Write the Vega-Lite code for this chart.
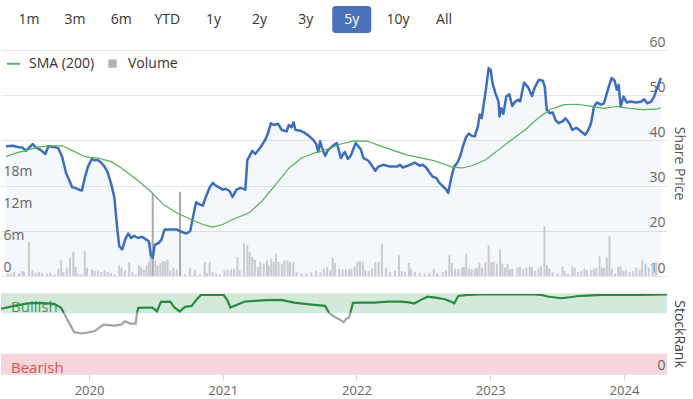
{
  "$schema": "https://vega.github.io/schema/vega-lite/v6.json",
  "background": "white",
  "padding": {"left": -4, "top": 6, "right": 4, "bottom": 0},
  "spacing": 17,
  "bounds": "flush",
  "config": {"font": "Open Sans", "view": {"stroke": null}},
  "resolve": {"scale": {"x": "independent", "y": "independent"}},
  "datasets": {
    "buttons": [
      {"label": "1m", "selected": false}, {"label": "3m", "selected": false}, {"label": "6m", "selected": false},
      {"label": "YTD", "selected": false}, {"label": "1y", "selected": false}, {"label": "2y", "selected": false},
      {"label": "3y", "selected": false}, {"label": "5y", "selected": true}, {"label": "10y", "selected": false},
      {"label": "All", "selected": false}
    ],
    "price": [
      {"t":2019.342,"p":38.7},{"t":2019.394,"p":38.8},{"t":2019.439,"p":38.5},{"t":2019.469,"p":38.4},{"t":2019.492,"p":37.7},
      {"t":2019.514,"p":38.3},{"t":2019.544,"p":39.2},{"t":2019.566,"p":38.5},{"t":2019.604,"p":37.9},{"t":2019.641,"p":37.0},
      {"t":2019.664,"p":38.7},{"t":2019.716,"p":38.5},{"t":2019.738,"p":38.3},{"t":2019.768,"p":36.4},{"t":2019.798,"p":32.8},
      {"t":2019.821,"p":31.3},{"t":2019.843,"p":29.7},{"t":2019.865,"p":29.5},{"t":2019.888,"p":29.2},{"t":2019.918,"p":28.9},
      {"t":2019.940,"p":31.7},{"t":2019.963,"p":34.1},{"t":2019.993,"p":35.9},{"t":2020.015,"p":35.6},{"t":2020.037,"p":35.7},
      {"t":2020.067,"p":35.0},{"t":2020.090,"p":34.2},{"t":2020.112,"p":33.1},{"t":2020.142,"p":30.2},{"t":2020.165,"p":27.3},
      {"t":2020.187,"p":20.3},{"t":2020.202,"p":16.6},{"t":2020.224,"p":15.9},{"t":2020.247,"p":18.1},{"t":2020.269,"p":19.4},
      {"t":2020.292,"p":18.4},{"t":2020.314,"p":18.9},{"t":2020.344,"p":18.4},{"t":2020.374,"p":18.7},{"t":2020.404,"p":18.1},
      {"t":2020.426,"p":17.7},{"t":2020.441,"p":14.7},{"t":2020.456,"p":14.0},{"t":2020.471,"p":16.9},{"t":2020.501,"p":17.3},
      {"t":2020.523,"p":18.1},{"t":2020.546,"p":20.3},{"t":2020.591,"p":20.3},{"t":2020.636,"p":20.3},{"t":2020.665,"p":19.9},
      {"t":2020.710,"p":19.4},{"t":2020.740,"p":19.9},{"t":2020.763,"p":23.2},{"t":2020.785,"p":26.3},{"t":2020.815,"p":25.8},
      {"t":2020.837,"p":25.6},{"t":2020.860,"p":27.6},{"t":2020.890,"p":29.7},{"t":2020.912,"p":30.6},{"t":2020.935,"p":30.0},
      {"t":2020.965,"p":29.5},{"t":2020.987,"p":29.1},{"t":2021.009,"p":29.3},{"t":2021.039,"p":28.8},{"t":2021.062,"p":27.5},
      {"t":2021.092,"p":29.1},{"t":2021.122,"p":29.5},{"t":2021.159,"p":29.1},{"t":2021.174,"p":35.7},{"t":2021.189,"p":36.4},
      {"t":2021.211,"p":37.7},{"t":2021.234,"p":37.0},{"t":2021.264,"p":38.1},{"t":2021.286,"p":39.0},{"t":2021.309,"p":40.1},
      {"t":2021.331,"p":41.6},{"t":2021.353,"p":43.8},{"t":2021.376,"p":43.4},{"t":2021.406,"p":43.7},{"t":2021.436,"p":42.3},
      {"t":2021.473,"p":42.0},{"t":2021.488,"p":43.4},{"t":2021.510,"p":42.9},{"t":2021.525,"p":44.0},{"t":2021.540,"p":42.3},
      {"t":2021.570,"p":42.2},{"t":2021.608,"p":41.7},{"t":2021.645,"p":40.9},{"t":2021.675,"p":40.1},{"t":2021.697,"p":39.2},
      {"t":2021.712,"p":37.5},{"t":2021.727,"p":39.8},{"t":2021.742,"p":38.3},{"t":2021.765,"p":36.6},{"t":2021.787,"p":37.9},
      {"t":2021.832,"p":39.0},{"t":2021.854,"p":39.4},{"t":2021.884,"p":36.1},{"t":2021.914,"p":37.5},{"t":2021.937,"p":35.9},
      {"t":2021.959,"p":36.6},{"t":2021.996,"p":39.4},{"t":2022.034,"p":38.1},{"t":2022.056,"p":36.1},{"t":2022.094,"p":35.5},
      {"t":2022.146,"p":33.3},{"t":2022.168,"p":34.2},{"t":2022.206,"p":34.6},{"t":2022.258,"p":34.2},{"t":2022.310,"p":34.2},
      {"t":2022.333,"p":34.6},{"t":2022.355,"p":34.0},{"t":2022.408,"p":34.6},{"t":2022.445,"p":35.1},{"t":2022.482,"p":34.4},
      {"t":2022.505,"p":34.6},{"t":2022.535,"p":33.9},{"t":2022.557,"p":32.9},{"t":2022.580,"p":32.0},{"t":2022.609,"p":31.7},
      {"t":2022.632,"p":30.6},{"t":2022.654,"p":30.0},{"t":2022.684,"p":29.1},{"t":2022.699,"p":28.4},{"t":2022.722,"p":31.7},
      {"t":2022.744,"p":34.2},{"t":2022.767,"p":35.0},{"t":2022.789,"p":36.4},{"t":2022.811,"p":38.7},{"t":2022.834,"p":40.7},
      {"t":2022.856,"p":41.5},{"t":2022.879,"p":41.0},{"t":2022.901,"p":40.9},{"t":2022.924,"p":43.1},{"t":2022.938,"p":45.7},
      {"t":2022.953,"p":44.9},{"t":2022.968,"p":47.9},{"t":2022.983,"p":50.8},{"t":2023.006,"p":56.0},{"t":2023.021,"p":55.6},
      {"t":2023.036,"p":52.6},{"t":2023.058,"p":50.4},{"t":2023.081,"p":48.6},{"t":2023.088,"p":45.3},{"t":2023.103,"p":47.1},
      {"t":2023.118,"p":45.9},{"t":2023.140,"p":49.7},{"t":2023.163,"p":50.2},{"t":2023.185,"p":47.6},{"t":2023.208,"p":48.6},
      {"t":2023.230,"p":49.0},{"t":2023.245,"p":48.6},{"t":2023.275,"p":52.8},{"t":2023.305,"p":51.8},{"t":2023.335,"p":49.8},
      {"t":2023.357,"p":51.8},{"t":2023.387,"p":53.4},{"t":2023.417,"p":53.2},{"t":2023.432,"p":51.9},{"t":2023.447,"p":46.8},
      {"t":2023.469,"p":46.0},{"t":2023.492,"p":46.2},{"t":2023.514,"p":44.5},{"t":2023.537,"p":43.8},{"t":2023.567,"p":44.2},
      {"t":2023.589,"p":44.9},{"t":2023.619,"p":43.8},{"t":2023.641,"p":42.3},{"t":2023.671,"p":42.8},{"t":2023.694,"p":42.3},
      {"t":2023.724,"p":41.6},{"t":2023.738,"p":41.2},{"t":2023.761,"p":42.2},{"t":2023.783,"p":43.8},{"t":2023.806,"p":47.5},
      {"t":2023.828,"p":48.4},{"t":2023.858,"p":47.9},{"t":2023.881,"p":48.2},{"t":2023.896,"p":49.7},{"t":2023.918,"p":51.9},
      {"t":2023.940,"p":53.8},{"t":2023.963,"p":53.2},{"t":2023.978,"p":51.2},{"t":2023.993,"p":52.3},{"t":2024.008,"p":47.5},
      {"t":2024.030,"p":49.7},{"t":2024.053,"p":48.4},{"t":2024.082,"p":48.6},{"t":2024.127,"p":48.4},{"t":2024.165,"p":48.6},
      {"t":2024.187,"p":49.1},{"t":2024.210,"p":48.2},{"t":2024.239,"p":48.6},{"t":2024.262,"p":49.7},{"t":2024.284,"p":51.5},
      {"t":2024.314,"p":53.8}
    ],
    "sma": [
      {"t":2019.342,"s":36.4},{"t":2019.417,"s":37.2},{"t":2019.492,"s":37.8},{"t":2019.589,"s":38.5},{"t":2019.664,"s":38.8},
      {"t":2019.768,"s":38.8},{"t":2019.843,"s":37.8},{"t":2019.940,"s":36.4},{"t":2020.037,"s":36.1},{"t":2020.142,"s":35.3},
      {"t":2020.217,"s":33.9},{"t":2020.336,"s":31.3},{"t":2020.441,"s":28.7},{"t":2020.538,"s":25.8},{"t":2020.636,"s":24.0},
      {"t":2020.740,"s":22.6},{"t":2020.837,"s":21.4},{"t":2020.912,"s":20.8},{"t":2020.987,"s":21.4},{"t":2021.062,"s":22.5},
      {"t":2021.189,"s":24.0},{"t":2021.286,"s":26.6},{"t":2021.383,"s":30.0},{"t":2021.488,"s":33.8},{"t":2021.585,"s":36.1},
      {"t":2021.682,"s":37.2},{"t":2021.787,"s":38.1},{"t":2021.884,"s":39.2},{"t":2021.981,"s":39.9},{"t":2022.086,"s":39.8},
      {"t":2022.183,"s":38.8},{"t":2022.281,"s":37.8},{"t":2022.385,"s":36.8},{"t":2022.482,"s":36.2},{"t":2022.580,"s":35.6},
      {"t":2022.684,"s":34.6},{"t":2022.729,"s":34.1},{"t":2022.804,"s":33.9},{"t":2022.879,"s":34.4},{"t":2022.983,"s":35.7},
      {"t":2023.081,"s":37.9},{"t":2023.178,"s":40.1},{"t":2023.282,"s":42.3},{"t":2023.380,"s":44.9},{"t":2023.477,"s":46.9},
      {"t":2023.582,"s":47.9},{"t":2023.679,"s":48.0},{"t":2023.776,"s":47.6},{"t":2023.881,"s":47.1},{"t":2023.978,"s":47.5},
      {"t":2024.075,"s":47.1},{"t":2024.180,"s":46.8},{"t":2024.277,"s":46.9},{"t":2024.314,"s":47.2}
    ],
    "vol": [
      {"t":2019.355,"v":0.44},{"t":2019.379,"v":0.44},{"t":2019.404,"v":0.75},{"t":2019.441,"v":0.57},{"t":2019.467,"v":0.94},
      {"t":2019.479,"v":0.75},{"t":2019.516,"v":6.39},{"t":2019.542,"v":1.07},{"t":2019.566,"v":0.57},{"t":2019.591,"v":0.75},
      {"t":2019.616,"v":0.57},{"t":2019.654,"v":0.44},{"t":2019.678,"v":0.57},{"t":2019.711,"v":0.31},{"t":2019.740,"v":1.38},
      {"t":2019.761,"v":2.94},{"t":2019.778,"v":0.75},{"t":2019.803,"v":1.56},{"t":2019.828,"v":3.45},{"t":2019.853,"v":4.52},
      {"t":2019.871,"v":1.69},{"t":2019.890,"v":0.44},{"t":2019.915,"v":0.31},{"t":2019.940,"v":4.63},{"t":2019.957,"v":1.56},
      {"t":2019.995,"v":1.19},{"t":2020.015,"v":0.94},{"t":2020.040,"v":1.07},{"t":2020.065,"v":0.75},{"t":2020.090,"v":1.07},
      {"t":2020.114,"v":0.75},{"t":2020.140,"v":0.57},{"t":2020.170,"v":0.31},{"t":2020.202,"v":2.00},{"t":2020.219,"v":1.56},
      {"t":2020.244,"v":1.07},{"t":2020.277,"v":2.63},{"t":2020.301,"v":0.75},{"t":2020.327,"v":0.31},{"t":2020.351,"v":2.00},
      {"t":2020.369,"v":1.69},{"t":2020.389,"v":1.19},{"t":2020.409,"v":2.00},{"t":2020.426,"v":2.63},{"t":2020.439,"v":6.39},
      {"t":2020.456,"v":15.5},{"t":2020.476,"v":2.94},{"t":2020.493,"v":2.00},{"t":2020.514,"v":2.44},{"t":2020.533,"v":2.81},
      {"t":2020.551,"v":2.75},{"t":2020.568,"v":3.07},{"t":2020.588,"v":1.07},{"t":2020.613,"v":1.56},{"t":2020.638,"v":1.19},
      {"t":2020.663,"v":15.8},{"t":2020.701,"v":0.31},{"t":2020.738,"v":1.56},{"t":2020.775,"v":1.19},{"t":2020.813,"v":0.31},
      {"t":2020.850,"v":2.63},{"t":2020.867,"v":0.57},{"t":2020.888,"v":2.63},{"t":2020.912,"v":0.75},{"t":2020.937,"v":0.57},
      {"t":2020.967,"v":0.31},{"t":2021.000,"v":1.07},{"t":2021.024,"v":1.19},{"t":2021.049,"v":1.19},{"t":2021.074,"v":1.38},
      {"t":2021.099,"v":3.56},{"t":2021.116,"v":1.07},{"t":2021.149,"v":6.08},{"t":2021.174,"v":5.77},{"t":2021.191,"v":4.52},
      {"t":2021.211,"v":3.56},{"t":2021.231,"v":3.07},{"t":2021.256,"v":1.69},{"t":2021.273,"v":2.63},{"t":2021.299,"v":2.31},
      {"t":2021.323,"v":2.94},{"t":2021.336,"v":2.00},{"t":2021.356,"v":3.25},{"t":2021.374,"v":2.63},{"t":2021.391,"v":4.19},
      {"t":2021.411,"v":2.63},{"t":2021.436,"v":2.31},{"t":2021.456,"v":2.94},{"t":2021.480,"v":2.94},{"t":2021.498,"v":2.63},
      {"t":2021.523,"v":2.63},{"t":2021.548,"v":0.75},{"t":2021.585,"v":0.57},{"t":2021.623,"v":0.44},{"t":2021.660,"v":0.75},
      {"t":2021.697,"v":1.07},{"t":2021.729,"v":0.75},{"t":2021.755,"v":1.38},{"t":2021.780,"v":1.69},{"t":2021.804,"v":1.07},
      {"t":2021.822,"v":3.45},{"t":2021.839,"v":2.44},{"t":2021.872,"v":1.38},{"t":2021.897,"v":1.19},{"t":2021.922,"v":1.19},
      {"t":2021.946,"v":1.19},{"t":2021.964,"v":1.38},{"t":2021.989,"v":1.69},{"t":2022.009,"v":2.63},{"t":2022.029,"v":2.81},
      {"t":2022.051,"v":2.63},{"t":2022.071,"v":1.07},{"t":2022.096,"v":0.94},{"t":2022.121,"v":1.38},{"t":2022.146,"v":2.63},
      {"t":2022.171,"v":2.63},{"t":2022.196,"v":6.08},{"t":2022.228,"v":1.56},{"t":2022.258,"v":0.75},{"t":2022.295,"v":0.94},
      {"t":2022.325,"v":3.88},{"t":2022.346,"v":0.94},{"t":2022.370,"v":0.75},{"t":2022.400,"v":2.44},{"t":2022.415,"v":1.38},
      {"t":2022.445,"v":0.75},{"t":2022.482,"v":0.57},{"t":2022.520,"v":0.44},{"t":2022.557,"v":0.57},{"t":2022.589,"v":1.38},
      {"t":2022.615,"v":0.57},{"t":2022.657,"v":0.75},{"t":2022.682,"v":1.07},{"t":2022.707,"v":3.88},{"t":2022.727,"v":2.44},
      {"t":2022.752,"v":1.38},{"t":2022.776,"v":1.19},{"t":2022.802,"v":1.56},{"t":2022.819,"v":1.69},{"t":2022.836,"v":4.19},
      {"t":2022.856,"v":1.38},{"t":2022.876,"v":1.19},{"t":2022.901,"v":1.38},{"t":2022.918,"v":1.56},{"t":2022.936,"v":2.44},
      {"t":2022.956,"v":1.56},{"t":2022.981,"v":2.63},{"t":2023.006,"v":5.77},{"t":2023.026,"v":2.63},{"t":2023.043,"v":2.63},
      {"t":2023.068,"v":2.31},{"t":2023.093,"v":4.94},{"t":2023.110,"v":2.31},{"t":2023.131,"v":1.56},{"t":2023.150,"v":2.31},
      {"t":2023.168,"v":1.19},{"t":2023.185,"v":1.38},{"t":2023.225,"v":1.56},{"t":2023.243,"v":1.69},{"t":2023.267,"v":1.19},
      {"t":2023.292,"v":1.56},{"t":2023.318,"v":1.82},{"t":2023.335,"v":1.69},{"t":2023.359,"v":0.94},{"t":2023.385,"v":1.38},
      {"t":2023.404,"v":1.82},{"t":2023.430,"v":9.33},{"t":2023.449,"v":2.00},{"t":2023.467,"v":1.38},{"t":2023.492,"v":0.75},
      {"t":2023.529,"v":0.44},{"t":2023.567,"v":1.82},{"t":2023.584,"v":0.94},{"t":2023.609,"v":0.44},{"t":2023.641,"v":1.82},
      {"t":2023.659,"v":1.56},{"t":2023.684,"v":0.75},{"t":2023.709,"v":0.94},{"t":2023.733,"v":1.38},{"t":2023.753,"v":1.07},
      {"t":2023.783,"v":1.07},{"t":2023.804,"v":1.38},{"t":2023.823,"v":1.56},{"t":2023.848,"v":3.69},{"t":2023.866,"v":1.56},
      {"t":2023.883,"v":1.56},{"t":2023.903,"v":3.45},{"t":2023.923,"v":7.46},{"t":2023.940,"v":1.38},{"t":2023.965,"v":0.44},
      {"t":2023.990,"v":1.69},{"t":2024.008,"v":1.82},{"t":2024.028,"v":0.94},{"t":2024.047,"v":1.07},{"t":2024.077,"v":0.75},
      {"t":2024.103,"v":0.94},{"t":2024.127,"v":1.56},{"t":2024.152,"v":1.19},{"t":2024.172,"v":2.94},{"t":2024.197,"v":2.31},
      {"t":2024.222,"v":1.56},{"t":2024.252,"v":2.31},{"t":2024.277,"v":2.63}
    ],
    "bands": [
      {"band": "Bullish", "lo": 75, "hi": 100},
      {"band": "Bearish", "lo": 0, "hi": 25}
    ],
    "rank": [
      {"t":2019.342,"r":80.5,"zone":"bull","seg":1},{"t":2019.441,"r":84.1,"zone":"bull","seg":1},{"t":2019.542,"r":87.2,"zone":"bull","seg":1},
      {"t":2019.641,"r":87.8,"zone":"bull","seg":1},{"t":2019.740,"r":86.6,"zone":"bull","seg":1},{"t":2019.791,"r":81.7,"zone":"bull","seg":1},
      {"t":2019.811,"r":75.6,"zone":"bull","seg":1},
      {"t":2019.811,"r":75.6,"zone":"neutral","seg":2},{"t":2019.850,"r":63.4,"zone":"neutral","seg":2},{"t":2019.890,"r":51.6,"zone":"neutral","seg":2},
      {"t":2019.940,"r":50.0,"zone":"neutral","seg":2},{"t":2019.990,"r":51.2,"zone":"neutral","seg":2},{"t":2020.040,"r":52.8,"zone":"neutral","seg":2},
      {"t":2020.110,"r":61.0,"zone":"neutral","seg":2},{"t":2020.189,"r":59.8,"zone":"neutral","seg":2},{"t":2020.239,"r":61.0,"zone":"neutral","seg":2},
      {"t":2020.269,"r":65.0,"zone":"neutral","seg":2},{"t":2020.309,"r":62.2,"zone":"neutral","seg":2},{"t":2020.349,"r":62.2,"zone":"neutral","seg":2},
      {"t":2020.359,"r":75.6,"zone":"neutral","seg":2},
      {"t":2020.359,"r":75.6,"zone":"bull","seg":3},{"t":2020.369,"r":81.7,"zone":"bull","seg":3},{"t":2020.439,"r":82.1,"zone":"bull","seg":3},
      {"t":2020.478,"r":81.7,"zone":"bull","seg":3},{"t":2020.508,"r":77.2,"zone":"bull","seg":3},{"t":2020.538,"r":89.0,"zone":"bull","seg":3},
      {"t":2020.608,"r":89.4,"zone":"bull","seg":3},{"t":2020.638,"r":82.1,"zone":"bull","seg":3},{"t":2020.678,"r":77.2,"zone":"bull","seg":3},
      {"t":2020.718,"r":82.9,"zone":"bull","seg":3},{"t":2020.768,"r":84.1,"zone":"bull","seg":3},{"t":2020.808,"r":92.7,"zone":"bull","seg":3},
      {"t":2020.837,"r":97.6,"zone":"bull","seg":3},{"t":2021.007,"r":97.6,"zone":"bull","seg":3},{"t":2021.037,"r":90.2,"zone":"bull","seg":3},
      {"t":2021.057,"r":82.1,"zone":"bull","seg":3},{"t":2021.107,"r":85.4,"zone":"bull","seg":3},{"t":2021.166,"r":89.4,"zone":"bull","seg":3},
      {"t":2021.236,"r":90.2,"zone":"bull","seg":3},{"t":2021.336,"r":91.1,"zone":"bull","seg":3},{"t":2021.436,"r":91.5,"zone":"bull","seg":3},
      {"t":2021.535,"r":88.2,"zone":"bull","seg":3},{"t":2021.615,"r":86.6,"zone":"bull","seg":3},{"t":2021.685,"r":85.4,"zone":"bull","seg":3},
      {"t":2021.765,"r":84.1,"zone":"bull","seg":3},{"t":2021.795,"r":75.6,"zone":"bull","seg":3},
      {"t":2021.795,"r":75.6,"zone":"neutral","seg":4},{"t":2021.834,"r":70.7,"zone":"neutral","seg":4},{"t":2021.875,"r":67.1,"zone":"neutral","seg":4},
      {"t":2021.904,"r":63.8,"zone":"neutral","seg":4},{"t":2021.924,"r":68.3,"zone":"neutral","seg":4},{"t":2021.944,"r":69.5,"zone":"neutral","seg":4},
      {"t":2021.954,"r":75.6,"zone":"neutral","seg":4},
      {"t":2021.954,"r":75.6,"zone":"bull","seg":5},{"t":2021.974,"r":87.8,"zone":"bull","seg":5},{"t":2022.034,"r":88.2,"zone":"bull","seg":5},
      {"t":2022.133,"r":88.2,"zone":"bull","seg":5},{"t":2022.233,"r":89.4,"zone":"bull","seg":5},{"t":2022.333,"r":89.4,"zone":"bull","seg":5},
      {"t":2022.393,"r":88.4,"zone":"bull","seg":5},{"t":2022.432,"r":87.0,"zone":"bull","seg":5},{"t":2022.482,"r":91.5,"zone":"bull","seg":5},
      {"t":2022.532,"r":95.5,"zone":"bull","seg":5},{"t":2022.602,"r":93.9,"zone":"bull","seg":5},{"t":2022.662,"r":92.3,"zone":"bull","seg":5},
      {"t":2022.712,"r":89.0,"zone":"bull","seg":5},{"t":2022.731,"r":87.0,"zone":"bull","seg":5},{"t":2022.761,"r":96.3,"zone":"bull","seg":5},
      {"t":2022.832,"r":97.6,"zone":"bull","seg":5},{"t":2022.931,"r":98.4,"zone":"bull","seg":5},{"t":2023.330,"r":98.4,"zone":"bull","seg":5},
      {"t":2023.380,"r":97.6,"zone":"bull","seg":5},{"t":2023.430,"r":95.7,"zone":"bull","seg":5},{"t":2023.529,"r":93.5,"zone":"bull","seg":5},
      {"t":2023.609,"r":95.1,"zone":"bull","seg":5},{"t":2023.659,"r":96.3,"zone":"bull","seg":5},{"t":2023.729,"r":96.7,"zone":"bull","seg":5},
      {"t":2023.828,"r":97.6,"zone":"bull","seg":5},{"t":2023.928,"r":97.6,"zone":"bull","seg":5},{"t":2024.127,"r":97.6,"zone":"bull","seg":5},
      {"t":2024.322,"r":98.2,"zone":"bull","seg":5}
    ]
  },
  "vconcat": [
    {
      "width": 471,
      "height": 27,
      "data": {"name": "buttons"},
      "encoding": {
        "x": {"field": "label", "type": "nominal", "sort": null,
              "scale": {"type": "band", "domain": ["1m","3m","6m","YTD","1y","2y","3y","5y","10y","All"], "paddingInner": 0.154, "paddingOuter": 0.184},
              "axis": null}
      },
      "layer": [
        {"transform": [{"filter": "datum.selected"}], "mark": {"type": "bar", "cornerRadius": 3, "color": "#4a72b8"}},
        {"mark": {"type": "text", "fontSize": 14, "baseline": "middle"},
         "encoding": {"text": {"field": "label"}, "color": {"condition": {"test": "datum.selected", "value": "#ffffff"}, "value": "#333333"}}}
      ]
    },
    {
      "width": 666,
      "height": 226,
      "resolve": {"scale": {"y": "independent"}},
      "layer": [
        {
          "data": {"name": "price"},
          "mark": {"type": "area", "color": "#3f6fc0", "opacity": 0.06},
          "encoding": {
            "x": {"field": "t", "type": "quantitative", "scale": {"domain": [2019.342, 2024.322], "nice": false, "zero": false}, "axis": null},
            "y": {"field": "p", "type": "quantitative", "scale": {"domain": [10, 60], "zero": false, "nice": false}, "axis": null},
            "y2": {"datum": 10}
          }
        },
        {
          "data": {"name": "vol"},
          "mark": {"type": "bar", "width": 2},
          "encoding": {
            "x": {"field": "t", "type": "quantitative", "scale": {"domain": [2019.342, 2024.322], "nice": false, "zero": false}, "axis": null},
            "y": {"field": "v", "type": "quantitative", "scale": {"domain": [0, 42.4], "nice": false},
                  "axis": {"orient": "left", "values": [0, 6, 12, 18], "grid": false, "domain": false, "ticks": false, "tickSize": 0,
                           "labelAlign": "left", "labelPadding": -2, "labelBaseline": "bottom", "labelOffset": -2,
                           "labelExpr": "datum.value === 0 ? '0' : datum.value + 'm'", "labelColor": "#666666", "labelFontSize": 14,
                           "labelOverlap": false, "title": null, "zindex": 1}},
            "fill": {"condition": {"test": "datum.v > 12", "value": "#a9a9ae"}, "value": "#c9cad1"}
          }
        },
        {
          "data": {"name": "price"},
          "mark": {"type": "line", "color": "#3d6dbe", "strokeWidth": 2.5, "strokeJoin": "round"},
          "encoding": {
            "x": {"field": "t", "type": "quantitative", "scale": {"domain": [2019.342, 2024.322], "nice": false, "zero": false}, "axis": null},
            "y": {"field": "p", "type": "quantitative", "scale": {"domain": [10, 60], "zero": false, "nice": false},
                  "axis": {"orient": "right", "values": [10, 20, 30, 40, 50, 60], "grid": true, "gridColor": "#e6e6e6",
                           "domain": false, "ticks": false, "tickSize": 0, "labelAlign": "right", "labelPadding": -2,
                           "labelBaseline": "bottom", "labelOffset": -1, "labelColor": "#666666", "labelFontSize": 14,
                           "labelOverlap": false, "title": "Share Price", "titleFontWeight": "normal", "titleFontSize": 14,
                           "titleColor": "#555555", "titlePadding": 4}}
          }
        },
        {
          "data": {"name": "sma"},
          "mark": {"type": "line", "strokeWidth": 1.2},
          "encoding": {
            "x": {"field": "t", "type": "quantitative", "scale": {"domain": [2019.342, 2024.322], "nice": false, "zero": false}, "axis": null},
            "y": {"field": "s", "type": "quantitative", "scale": {"domain": [10, 60], "zero": false, "nice": false}, "axis": null},
            "color": {"datum": "SMA (200)", "type": "nominal",
                      "scale": {"domain": ["SMA (200)", "Volume"], "range": ["#55b255", "#b0b0b6"]},
                      "legend": {"orient": "none", "legendX": 5, "legendY": 50, "direction": "horizontal", "title": null,
                                 "labelFontSize": 14, "labelColor": "#333333", "symbolSize": 169, "columnPadding": 10,
                                 "labelOffset": 8, "padding": 0,
                                 "encode": {"symbols": {"update": {
                                   "shape": {"signal": "datum.value === 'Volume' ? 'square' : 'stroke'"},
                                   "size": {"signal": "datum.value === 'Volume' ? 40 : 169"},
                                   "stroke": {"signal": "datum.value === 'Volume' ? 'transparent' : '#6cc06c'"},
                                   "fill": {"signal": "datum.value === 'Volume' ? '#b0b0b6' : 'transparent'"},
                                   "strokeWidth": {"value": 2},
                                   "opacity": {"value": 1}}}}}}
          }
        }
      ]
    },
    {
      "width": 666,
      "height": 81,
      "layer": [
        {
          "data": {"name": "bands"},
          "mark": {"type": "rect"},
          "encoding": {
            "y": {"field": "lo", "type": "quantitative", "scale": {"domain": [0, 100], "nice": false},
                  "axis": {"orient": "right", "values": [0, 100], "grid": true, "gridColor": "#e6e6e6", "domain": false,
                           "ticks": false, "tickSize": 0, "labelAlign": "right", "labelPadding": -2, "labelBaseline": "bottom",
                           "labelOffset": -2, "labelExpr": "datum.value === 0 ? '0' : ''", "labelColor": "#666666",
                           "labelFontSize": 14, "labelOverlap": false, "title": "StockRank", "titleFontWeight": "normal",
                           "titleFontSize": 14, "titleColor": "#444444", "titlePadding": 4, "zindex": 1}},
            "y2": {"field": "hi"},
            "fill": {"condition": {"test": "datum.band === 'Bullish'", "value": "#d3eadb"}, "value": "#f6d6da"}
          }
        },
        {
          "data": {"name": "bands"},
          "mark": {"type": "text", "align": "left", "baseline": "alphabetic", "dx": 10, "dy": -1, "fontSize": 15},
          "encoding": {
            "x": {"datum": 2019.342, "type": "quantitative", "scale": {"domain": [2019.342, 2024.322], "nice": false, "zero": false}},
            "y": {"field": "lo", "type": "quantitative"},
            "text": {"field": "band"},
            "color": {"condition": {"test": "datum.band === 'Bullish'", "value": "#3f9a55"}, "value": "#d9534f"}
          }
        },
        {
          "data": {"name": "rank"},
          "mark": {"type": "line", "strokeWidth": 2.2},
          "encoding": {
            "x": {"field": "t", "type": "quantitative", "scale": {"domain": [2019.342, 2024.322], "nice": false, "zero": false},
                  "axis": {"values": [2020, 2021, 2022, 2023, 2024], "format": "d", "grid": false, "domain": false,
                           "tickColor": "#ccd6eb", "tickSize": 6, "labelColor": "#666666", "labelFontSize": 13,
                           "labelPadding": 4, "title": null}},
            "y": {"field": "r", "type": "quantitative"},
            "stroke": {"field": "zone", "type": "nominal", "scale": {"domain": ["bull", "neutral"], "range": ["#2a8a3f", "#a3a3a3"]}, "legend": null},
            "detail": {"field": "seg", "type": "nominal"}
          }
        }
      ]
    }
  ]
}
